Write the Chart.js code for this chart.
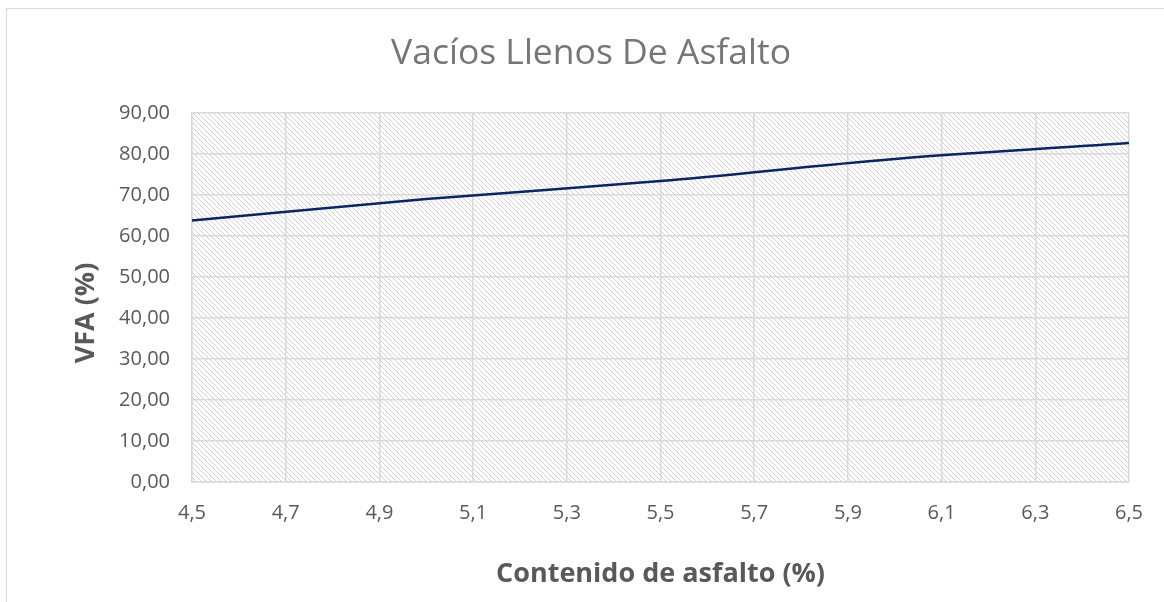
<!DOCTYPE html>
<html>
<head>
<meta charset="utf-8">
<script src="https://cdn.jsdelivr.net/npm/chart.js@4.4.1/dist/chart.umd.min.js"></script>
<style>
  html, body { margin: 0; padding: 0; background: #fff; overflow: hidden; width: 1164px; height: 602px; }
  #frame { position: absolute; left: 6px; top: 8px; width: 1200px; height: 700px; border: 1px solid #d9d9d9; box-sizing: border-box; }
  #wrap { position: absolute; left: 0; top: 0; width: 1164px; height: 602px; }
</style>
</head>
<body>
<div id="frame"></div>
<div id="wrap"><canvas id="chart" width="1164" height="602"></canvas></div>
<script>
// Asphalt content (%) and voids filled with asphalt, VFA (%)
const asphaltContent = [4.5, 5.0, 5.5, 6.0, 6.5];
const vfaValues = [63.8, 69.0, 73.4, 78.8, 82.7];

const chartTitle = 'Vacíos Llenos De Asfalto';
const xAxisTitle = 'Contenido de asfalto (%)';
const yAxisTitle = 'VFA (%)';

const xMin = 4.5, xMax = 6.5, xStep = 0.2;
const yMin = 0, yMax = 90, yStep = 10;

const FONT = '"Open Sans", "Noto Sans", sans-serif';
const TEXT_GREY = '#595959';

// Light downward-diagonal hatch used as the plot background
function makeHatch() {
  const n = 5;
  const c = document.createElement('canvas');
  c.width = n; c.height = n;
  const g = c.getContext('2d');
  g.fillStyle = '#ffffff';
  g.fillRect(0, 0, n, n);
  g.fillStyle = '#d2d2d2';
  for (let i = 0; i < n; i++) g.fillRect(i, i, 1, 1);
  return g.createPattern(c, 'repeat');
}

const plotDecor = {
  id: 'plotDecor',
  beforeDraw(chart) {
    const { ctx, chartArea: a } = chart;
    ctx.save();
    ctx.fillStyle = makeHatch();
    ctx.fillRect(a.left, a.top, a.right - a.left, a.bottom - a.top);
    ctx.restore();
  },
  afterDraw(chart) {
    const { ctx, chartArea: a } = chart;
    ctx.save();
    ctx.fillStyle = TEXT_GREY;
    ctx.font = 'bold 27px ' + FONT;
    ctx.textAlign = 'center';
    ctx.textBaseline = 'middle';
    ctx.fillText(xAxisTitle, (a.left + a.right) / 2, 574);
    ctx.translate(86, 313);
    ctx.rotate(-Math.PI / 2);
    ctx.fillText(yAxisTitle, 0, 0);
    ctx.restore();
  }
};

const fmt = v => Number(v).toFixed(1).replace('.', ',');

new Chart(document.getElementById('chart'), {
  type: 'line',
  data: {
    datasets: [{
      data: asphaltContent.map((x, i) => ({ x, y: vfaValues[i] })),
      borderColor: '#0b2463',
      borderWidth: 2.5,
      pointRadius: 0,
      cubicInterpolationMode: 'monotone',
      fill: false
    }]
  },
  options: {
    responsive: false,
    animation: false,
    layout: { padding: { left: 53, right: 35, top: 0, bottom: 0 } },
    plugins: {
      legend: { display: false },
      tooltip: { enabled: false },
      title: {
        display: true,
        text: chartTitle,
        color: '#767676',
        font: { family: FONT, size: 35.5, weight: 'normal' },
        padding: { top: 33, bottom: 37.4 }
      }
    },
    scales: {
      x: {
        type: 'linear',
        min: xMin, max: xMax,
        afterFit: s => { s.height = 120; },
        afterBuildTicks: s => {
          const t = [];
          for (let k = 0; k <= Math.round((xMax - xMin) / xStep); k++) t.push({ value: +(xMin + k * xStep).toFixed(1) });
          s.ticks = t;
        },
        grid: { color: '#d9d9d9', lineWidth: 1.5, drawTicks: false },
        border: { color: '#d9d9d9', width: 1.5 },
        ticks: { color: TEXT_GREY, font: { family: FONT, size: 20 }, padding: 19, callback: v => fmt(v) }
      },
      y: {
        min: yMin, max: yMax,
        afterFit: s => { s.width = 139; },
        ticks: {
          stepSize: yStep, color: TEXT_GREY, font: { family: FONT, size: 20 }, padding: 22,
          callback: v => Number(v).toFixed(2).replace('.', ',')
        },
        grid: { color: '#d9d9d9', lineWidth: 1.5, drawTicks: false },
        border: { color: '#d9d9d9', width: 1.5 }
      }
    }
  },
  plugins: [plotDecor]
});
</script>
</body>
</html>
